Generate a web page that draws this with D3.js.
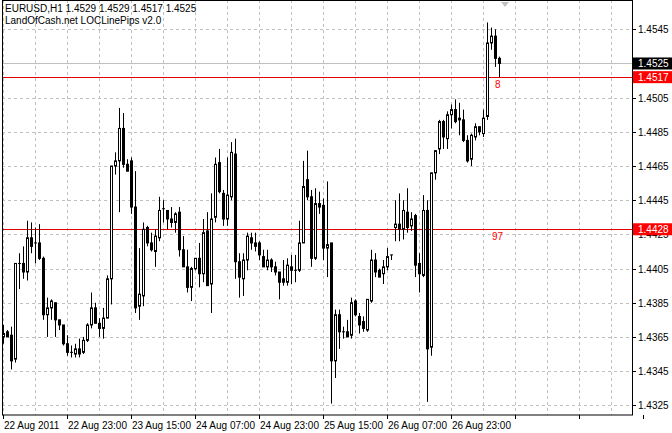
<!DOCTYPE html>
<html>
<head>
<meta charset="utf-8">
<script src="https://cdn.jsdelivr.net/npm/d3@7"></script>
<style>
body{margin:0;background:#fff;}
text{font-family:"Liberation Sans",Arial,sans-serif;font-size:10px;}
</style>
</head>
<body>
<svg id="chart" width="672" height="433"></svg>
<script>
// EURUSD H1, prices given in pips above basePrice
var basePrice = 1.4300, pip = 0.0001;
var opens  = [65,68,66,52,108,108,103,123,120,120,111,78,82,85,75,72,61,56,55,58,56,63,72,82,73,70,76,99,165,168,187,166,
  168,141,83,89,129,120,115,123,140,139,134,132,138,116,106,94,105,111,102,127,96,135,167,149,134,147,172,109,99,110,
  123,120,120,112,106,110,106,103,99,97,106,104,104,120,157,147,111,143,142,117,120,51,78,68,68,66,86,77,74,69,86,110,
  104,102,106,113,129,131,128,138,130,136,108,101,139,59,161,175,191,181,195,198,193,192,180,169,182,188,184,194,237,241,228];
var highs  = [72,69,71,108,114,118,133,132,129,131,112,88,87,85,75,72,66,60,61,64,65,73,91,85,76,82,101,165,173,199,196,169,
  170,162,117,132,130,126,128,147,145,139,141,138,141,124,116,106,111,120,134,138,149,170,175,151,170,179,181,114,114,126,
  126,126,121,116,116,111,109,103,110,111,113,113,133,168,174,151,152,150,146,156,120,81,81,71,75,88,87,79,77,87,116,114,
  105,110,117,113,145,149,145,152,138,137,114,148,145,161,174,192,192,197,201,204,202,198,183,184,190,188,198,249,246,245,229];
var lows   = [61,65,46,50,93,99,98,114,108,110,75,65,75,65,69,60,54,53,53,53,55,62,70,73,65,64,76,84,160,138,164,162,
  137,79,75,83,118,115,106,121,132,128,129,126,112,106,91,86,104,94,97,95,79,132,149,130,130,145,99,88,89,104,
  116,115,110,106,104,103,101,87,95,95,96,97,103,120,145,106,110,137,110,100,26,41,58,64,65,64,77,67,68,68,85,100,
  100,96,104,110,121,121,122,126,127,100,91,100,27,54,157,172,175,175,187,190,183,179,167,165,180,183,182,192,233,223,217];
var closes = [67,65,51,108,108,103,123,118,120,111,78,82,86,75,72,61,56,56,58,55,63,72,82,73,70,76,99,165,168,187,166,162,
  141,82,90,128,120,116,124,139,140,134,132,137,116,106,94,105,111,102,126,95,134,166,150,134,148,173,109,100,110,124,
  120,118,113,106,110,106,103,97,97,107,104,104,120,153,147,111,143,141,117,119,51,78,68,68,65,85,78,72,70,87,110,103,
  100,106,112,113,131,128,139,129,134,107,102,139,58,161,174,191,182,195,198,191,192,180,168,183,188,185,193,237,241,228,225];
var priceTicks = [1.4545,1.4525,1.4505,1.4485,1.4465,1.4445,1.4425,1.4405,1.4385,1.4365,1.4345,1.4325];
var dateLabels = ["22 Aug 2011","22 Aug 23:00","23 Aug 15:00","24 Aug 07:00","24 Aug 23:00","25 Aug 15:00","26 Aug 07:00","26 Aug 23:00","","",""];
var levels = [{price:1.4517, pips:"8"}, {price:1.4428, pips:"97"}];
var bid = 1.4525;

var W = 632, H = 415;
var svg = d3.select("#chart");
var x = d3.scaleLinear().domain([0,1]).range([3.3,7.3]);
var y = d3.scaleLinear().domain([1.4325,1.4545]).range([405.3,29.3]);
var px = function(v){ return basePrice + v*pip; };

var data = opens.map(function(o,i){
	return {i:i, o:px(o), h:px(highs[i]), l:px(lows[i]), c:px(closes[i])};
});

// grid
svg.selectAll(".hg").data(priceTicks).enter().append("line")
	.attr("x1",2).attr("x2",W).attr("y1",function(d){return Math.round(y(d))+0.5;}).attr("y2",function(d){return Math.round(y(d))+0.5;})
	.attr("stroke","#c0c0c0").attr("stroke-dasharray","3,3");
var vgrid = d3.range(0,158,8);
svg.selectAll(".vg").data(vgrid).enter().append("line")
	.attr("x1",function(d){return Math.round(x(d))+0.5;}).attr("x2",function(d){return Math.round(x(d))+0.5;})
	.attr("y1",0).attr("y2",H).attr("stroke","#c0c0c0").attr("stroke-dasharray","3,3");

// bid line
svg.append("line").attr("x1",2).attr("x2",W).attr("y1",Math.round(y(bid))+0.5).attr("y2",Math.round(y(bid))+0.5)
	.attr("stroke","#c0c0c0");
// level lines
svg.selectAll(".lv").data(levels).enter().append("line")
	.attr("x1",2).attr("x2",W).attr("y1",function(d){return Math.round(y(d.price))+0.5;}).attr("y2",function(d){return Math.round(y(d.price))+0.5;})
	.attr("stroke","#e00000");

// candles
var g = svg.append("g");
g.selectAll(".wick").data(data).enter().append("line")
	.attr("x1",function(d){return Math.round(x(d.i))+0.5;}).attr("x2",function(d){return Math.round(x(d.i))+0.5;})
	.attr("y1",function(d){return y(d.h);}).attr("y2",function(d){return y(d.l);})
	.attr("stroke","#000");
g.selectAll(".body").data(data).enter().append("rect")
	.attr("x",function(d){return Math.round(x(d.i))-0.5;}).attr("width",2)
	.attr("y",function(d){return y(Math.max(d.o,d.c));})
	.attr("height",function(d){return Math.max(0.01,Math.abs(y(d.o)-y(d.c)));})
	.attr("fill",function(d){return d.c>=d.o ? "#fff" : "#000";})
	.attr("stroke","#000").attr("stroke-width",1);

// level pip texts
svg.selectAll(".lt").data(levels).enter().append("text")
	.attr("x",function(d,i){return i==0 ? 495 : 492;}).attr("y",function(d){return y(d.price)+11;})
	.attr("fill","#ff0000").text(function(d){return d.pips;});

// frame
svg.append("rect").attr("x",2.5).attr("y",0.5).attr("width",W-2).attr("height",H-0.5)
	.attr("fill","none").attr("stroke","#000");

// price axis
svg.selectAll(".pt").data(priceTicks.filter(function(d){return d!=bid;})).enter().append("line")
	.attr("x1",W).attr("x2",W+4).attr("y1",function(d){return Math.round(y(d))+0.5;}).attr("y2",function(d){return Math.round(y(d))+0.5;})
	.attr("stroke","#000");
svg.selectAll(".pl").data(priceTicks.filter(function(d){return d!=bid;})).enter().append("text")
	.attr("x",W+6).attr("y",function(d){return y(d)+4;}).attr("fill","#000").text(function(d){return d.toFixed(4);});

function priceLabel(p, bg){
	svg.append("rect").attr("x",W+1).attr("y",y(p)-6).attr("width",40).attr("height",12).attr("fill",bg);
	svg.append("text").attr("x",W+6).attr("y",y(p)+4).attr("fill","#fff").text(p.toFixed(4));
}
priceLabel(bid,"#000");
levels.forEach(function(l){ priceLabel(l.price,"#ff0000"); });

// time axis
svg.selectAll(".tt").data(dateLabels).enter().append("line")
	.attr("x1",function(d,i){return Math.round(x(i*16))+0.5;}).attr("x2",function(d,i){return Math.round(x(i*16))+0.5;})
	.attr("y1",H).attr("y2",H+4).attr("stroke","#000");
svg.selectAll(".tl").data(dateLabels).enter().append("text")
	.attr("x",function(d,i){return Math.round(x(i*16))+1;}).attr("y",H+14).attr("fill","#000").text(function(d){return d;});

// shift marker
svg.append("path").attr("d","M501,2 L509,2 L505,7 Z").attr("fill","#c0c0c0");

// titles
svg.append("text").attr("x",5).attr("y",12).attr("fill","#000").text("EURUSD,H1  1.4529 1.4529 1.4517 1.4525");
svg.append("text").attr("x",5).attr("y",24).attr("fill","#000").text("LandOfCash.net LOCLinePips v2.0");
</script>
</body>
</html>
